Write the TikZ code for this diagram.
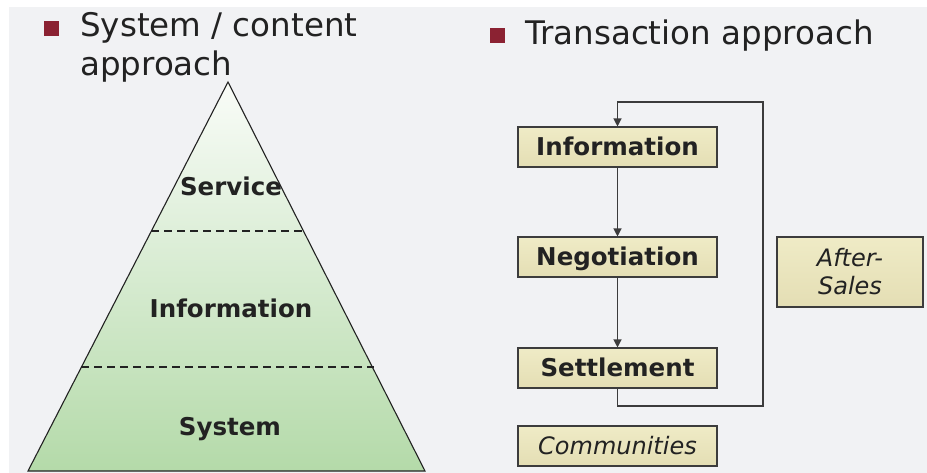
\documentclass[tikz,border=0pt]{standalone}
\usepackage{fontspec}
\setmainfont{DejaVu Sans}
\usetikzlibrary{arrows.meta}
\definecolor{bgc}{HTML}{F1F2F4}
\definecolor{bullet}{HTML}{8B2232}
\definecolor{txt}{HTML}{222222}
\definecolor{edge}{HTML}{3C3C3C}
\definecolor{boxtop}{HTML}{EFEBC6}
\definecolor{boxbot}{HTML}{E4DEB4}
\definecolor{pyrtop}{HTML}{F9FCF8}
\definecolor{pyrbot}{HTML}{B4DAA9}
\tikzset{
  title/.style={anchor=base west, inner sep=0pt, text=txt, font=\fontsize{32.5}{39}\selectfont},
  bul/.style={fill=bullet, draw=none},
  boxbase/.style={draw=edge, line width=1.1pt, top color=boxtop, bottom color=boxbot,
    minimum width=199pt, minimum height=40pt, inner sep=0pt, text=txt},
  stepbox/.style={boxbase, text height=17.5pt, text depth=0pt},
  bbold/.style={font=\fontsize{24.5}{28}\selectfont\bfseries},
  bital/.style={font=\fontsize{24}{28}\selectfont\itshape},
  conn/.style={draw=edge, line width=1.2pt},
  arr/.style={conn, -{Triangle[length=8pt,width=8pt]}},
  pyrlabel/.style={text=txt, inner sep=0pt, font=\fontsize{24.5}{28}\selectfont\bfseries, text height=17.5pt, text depth=0pt},
  layer/.style={draw=txt, line width=2pt, dash pattern=on 8pt off 5pt}
}
\begin{document}
\begin{tikzpicture}[x=1pt,y=-1pt]
\useasboundingbox (0,0) rectangle (927,473);
\fill[white] (0,0) rectangle (927,473);
\fill[bgc] (9,7) rectangle (927,473);
% titles
\fill[bul] (44,21) rectangle (59,36);
\node[title] (t1) at (80,37) {System / content};
\node[title] (t2) at (80,76) {approach};
\fill[bul] (490,28) rectangle (505,43);
\node[title] (t3) at (525,45) {Transaction approach};
% pyramid
\coordinate (apex) at (228,82);
\coordinate (bl) at (28,471);
\coordinate (br) at (425,471);
\shade[top color=pyrtop, bottom color=pyrbot] (apex) -- (br) -- (bl) -- cycle;
\draw[draw=txt, line width=1.1pt, line join=miter] (apex) -- (br) -- (bl) -- cycle;
\coordinate (d1l) at (151,231); \coordinate (d1r) at (304,231);
\coordinate (d2l) at (81,367); \coordinate (d2r) at (374,367);
\draw[layer] (d1l) -- (d1r);
\draw[layer] (d2l) -- (d2r);
\node[pyrlabel] (pserv) at (231,187) {Service};
\node[pyrlabel] (pinfo) at (231,309) {Information};
\node[pyrlabel] (psys) at (230,427) {System};
% transaction boxes
\node[stepbox, bbold] (info) at (617.5,147) {Information};
\node[stepbox, bbold] (nego) at (617.5,257) {Negotiation};
\node[stepbox, bbold] (sett) at (617.5,368) {Settlement};
\node[stepbox, bital] (comm) at (617.5,446) {Communities};
\node[boxbase, bital, minimum width=146pt, minimum height=70pt, align=center] (after) at (850,272) {After-\\Sales};
\draw[arr] (info) -- (nego);
\draw[arr] (nego) -- (sett);
\coordinate (lb) at (763,406);
\coordinate (lt) at (763,102);
\draw[arr] (sett.south) |- (lb) -- (lt) -| (info.north);
\end{tikzpicture}
\end{document}
